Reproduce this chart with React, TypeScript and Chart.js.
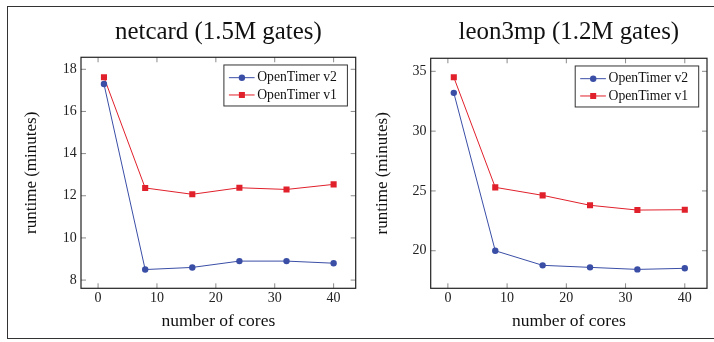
import React, { useEffect, useRef } from "react";
import { Chart, registerables } from "chart.js";

Chart.register(...registerables);

// ---- data ----
const coreCounts = [1, 8, 16, 24, 32, 40];
const seriesLabels = ["OpenTimer v2", "OpenTimer v1"];

const netcardV2 = [17.3, 8.5, 8.6, 8.9, 8.9, 8.8];
const netcardV1 = [17.62, 12.37, 12.07, 12.38, 12.3, 12.54];

const leonV2 = [33.2, 20.0, 18.78, 18.61, 18.44, 18.53];
const leonV1 = [34.5, 25.3, 24.63, 23.8, 23.4, 23.43];

const xTickValues = [0, 10, 20, 30, 40];
const netcardYTicks = [8, 10, 12, 14, 16, 18];
const leonYTicks = [20, 25, 30, 35];

const FONT = "'Liberation Serif', 'DejaVu Serif', serif";
const BLUE = "#3a4ea6";
const RED = "#e0202b";

type PanelProps = {
  title: string;
  v2: number[];
  v1: number[];
  yMin: number;
  yMax: number;
  yTicks: number[];
  yAxisWidth: number;
  padRight: number;
  yTitlePad: number;
  titlePadBottom: number;
  left: number;
};

function Panel(p: PanelProps) {
  const ref = useRef<HTMLCanvasElement>(null);

  useEffect(() => {
    const canvas = ref.current!;
    const plugin = {
      id: "pgfLook",
      afterLayout(chart: any) {
        const tb = chart.titleBlock;
        if (tb) {
          tb.left = chart.chartArea.left;
          tb.right = chart.chartArea.right;
        }
      },
      beforeDatasetsDraw(chart: any) {
        const { ctx, chartArea: a, scales } = chart;
        const L = 5;
        ctx.save();
        ctx.strokeStyle = "#8a8a8a";
        ctx.lineWidth = 1;
        ctx.beginPath();
        for (const t of scales.x.ticks) {
          const px = scales.x.getPixelForValue(t.value);
          ctx.moveTo(px, a.bottom);
          ctx.lineTo(px, a.bottom - L);
          ctx.moveTo(px, a.top);
          ctx.lineTo(px, a.top + L);
        }
        for (const t of scales.y.ticks) {
          const py = scales.y.getPixelForValue(t.value);
          ctx.moveTo(a.left, py);
          ctx.lineTo(a.left + L, py);
          ctx.moveTo(a.right, py);
          ctx.lineTo(a.right - L, py);
        }
        ctx.stroke();
        ctx.restore();
      },
      afterDatasetsDraw(chart: any) {
        const { ctx, chartArea: a } = chart;
        ctx.save();
        ctx.strokeStyle = "#222";
        ctx.lineWidth = 1.2;
        ctx.strokeRect(a.left, a.top, a.right - a.left, a.bottom - a.top);

        // legend
        const boxW = 123.5;
        const boxH = 41;
        const bx = a.right - 8.3 - boxW;
        const by = a.top + 7.7;
        ctx.fillStyle = "#fff";
        ctx.fillRect(bx, by, boxW, boxH);
        ctx.strokeStyle = "#333";
        ctx.lineWidth = 1;
        ctx.strokeRect(bx, by, boxW, boxH);
        chart.data.datasets.forEach((ds: any, i: number) => {
          const cy = by + 12.7 + i * 17.3;
          ctx.strokeStyle = ds.borderColor;
          ctx.lineWidth = 1;
          ctx.beginPath();
          ctx.moveTo(bx + 5, cy);
          ctx.lineTo(bx + 30.7, cy);
          ctx.stroke();
          ctx.fillStyle = ds.backgroundColor;
          const mx = bx + 18;
          if (ds.pointStyle === "rect") {
            ctx.fillRect(mx - 3, cy - 3, 6, 6);
          } else {
            ctx.beginPath();
            ctx.arc(mx, cy, 3.2, 0, Math.PI * 2);
            ctx.fill();
          }
          ctx.fillStyle = "#111";
          ctx.font = `13.7px ${FONT}`;
          ctx.textBaseline = "middle";
          ctx.textAlign = "left";
          ctx.fillText(ds.label, bx + 33.3, cy);
        });
        ctx.restore();
      },
    };

    const chart = new Chart(canvas, {
      type: "line",
      data: {
        datasets: [
          {
            label: seriesLabels[0],
            data: coreCounts.map((x, i) => ({ x, y: p.v2[i] })),
            borderColor: BLUE,
            backgroundColor: BLUE,
            borderWidth: 1,
            pointStyle: "circle",
            pointRadius: 3.2,
            pointBorderWidth: 0,
            pointBackgroundColor: BLUE,
          },
          {
            label: seriesLabels[1],
            data: coreCounts.map((x, i) => ({ x, y: p.v1[i] })),
            borderColor: RED,
            backgroundColor: RED,
            borderWidth: 1,
            pointStyle: "rect",
            pointRadius: 4.3,
            pointBorderWidth: 0,
            pointBackgroundColor: RED,
          },
        ],
      },
      options: {
        responsive: false,
        animation: false,
        events: [],
        layout: { padding: { left: 0, right: p.padRight, top: 0, bottom: 0 } },
        plugins: {
          legend: { display: false },
          tooltip: { enabled: false },
          title: {
            display: true,
            text: p.title,
            color: "#111",
            font: { family: FONT, size: 24.9, weight: "normal" },
            padding: { top: 17.6, bottom: p.titlePadBottom },
          },
        },
        scales: {
          x: {
            type: "linear",
            min: -2.9,
            max: 43.75,
            afterBuildTicks: (s: any) => {
              s.ticks = xTickValues.map((v) => ({ value: v }));
            },
            afterFit: (s: any) => {
              s.height = 53.7;
            },
            grid: { display: false, drawTicks: false },
            border: { display: false },
            ticks: {
              padding: 2,
              color: "#222",
              font: { family: FONT, size: 14 },
            },
            title: {
              display: true,
              text: "number of cores",
              color: "#111",
              font: { family: FONT, size: 17.5 },
              padding: { top: 0, bottom: 10.5 },
            },
          },
          y: {
            type: "linear",
            min: p.yMin,
            max: p.yMax,
            afterBuildTicks: (s: any) => {
              s.ticks = p.yTicks.map((v) => ({ value: v }));
            },
            afterFit: (s: any) => {
              s.width = p.yAxisWidth;
            },
            grid: { display: false, drawTicks: false },
            border: { display: false },
            ticks: {
              padding: 4.3,
              color: "#222",
              font: { family: FONT, size: 14 },
            },
            title: {
              display: true,
              text: "runtime (minutes)",
              color: "#111",
              font: { family: FONT, size: 17 },
              padding: { top: p.yTitlePad, bottom: 0 },
            },
          },
        },
      },
      plugins: [plugin],
    } as any);

    return () => chart.destroy();
  }, []);

  return (
    <canvas
      ref={ref}
      width={360}
      height={342}
      style={{ position: "absolute", left: p.left, top: 0, width: 360, height: 342 }}
    />
  );
}

export default function App() {
  return (
    <div
      style={{
        position: "fixed",
        left: 0,
        top: 0,
        width: 714,
        height: 342,
        overflow: "hidden",
        background: "#fff",
      }}
    >
      <div
        style={{
          position: "absolute",
          left: 7,
          top: 6,
          width: 720,
          height: 331,
          border: "1.3px solid #333",
        }}
      />
      <Panel
        title="netcard (1.5M gates)"
        v2={netcardV2}
        v1={netcardV1}
        yMin={7.61}
        yMax={18.57}
        yTicks={netcardYTicks}
        yAxisWidth={81}
        padRight={1.7}
        yTitlePad={21.8}
        titlePadBottom={9.8}
        left={0}
      />
      <Panel
        title="leon3mp (1.2M gates)"
        v2={leonV2}
        v1={leonV1}
        yMin={16.86}
        yMax={36.09}
        yTicks={leonYTicks}
        yAxisWidth={76.7}
        padRight={7}
        yTitlePad={18.1}
        titlePadBottom={10.8}
        left={354}
      />
    </div>
  );
}
